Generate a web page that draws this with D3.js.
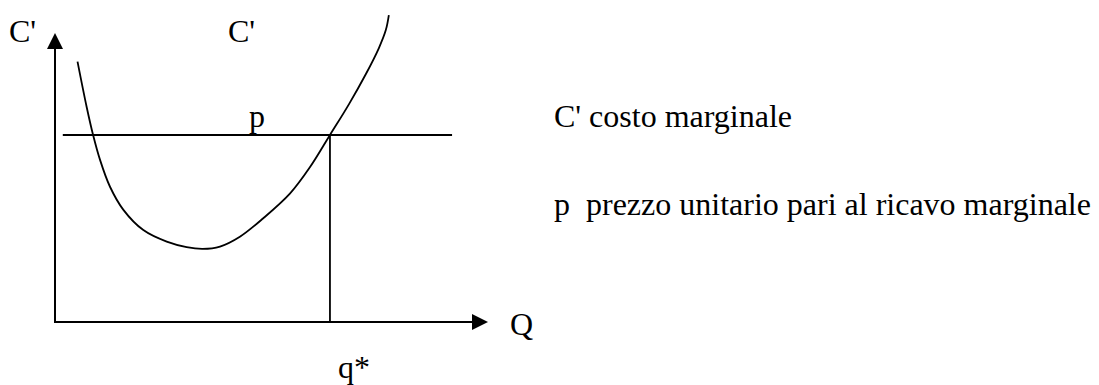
<!DOCTYPE html>
<html>
<head>
<meta charset="utf-8">
<script src="https://cdn.jsdelivr.net/npm/d3@7/dist/d3.min.js"></script>
<style>
  html, body { margin: 0; padding: 0; background: #fff; }
  svg { display: block; }
</style>
</head>
<body>
<svg id="chart" width="1099" height="385"></svg>
<script>
// Marginal cost curve C'(Q), sampled points (Q, C')
const curveQ = [0.52, 0.73, 0.88, 1.04, 1.27, 1.58, 2.04, 2.58, 3.04, 3.41, 3.81, 4.27, 4.81, 5.43, 5.89, 6.35, 6.79, 7.18, 7.48, 7.64, 7.71];
const curveC = [9.01, 7.45, 6.47, 5.61, 4.68, 3.88, 3.18, 2.78, 2.59, 2.53, 2.61, 2.95, 3.59, 4.45, 5.36, 6.47, 7.54, 8.58, 9.48, 10.10, 10.62];

// Price line p (= marginal revenue) and the optimal quantity q*
const priceLevel = [6.47];
const priceSpan = [0.18, 9.17];
const qStar = [6.35];

// Axis extent
const qDomain = [0, 10];
const cDomain = [0, 10];

// Text labels
const axisLabels = { y: "C'", x: "Q" };
const curveLabel = "C'";
const priceLabel = "p";
const qStarLabel = "q*";
const legendLines = ["C' costo marginale", "p  prezzo unitario pari al ricavo marginale"];

const svg = d3.select("#chart");
const fontSize = 32;
const fontFamily = "Liberation Serif";

const x = d3.scaleLinear().domain(qDomain).range([55, 488]);
const y = d3.scaleLinear().domain(cDomain).range([322, 33]);

const ink = "#000";

// Axes with arrowheads
const arrowLen = 16, arrowHalf = 8;
svg.append("line")
  .attr("x1", x(0)).attr("y1", y(0))
  .attr("x2", x(0)).attr("y2", y(cDomain[1]) + arrowLen - 1)
  .attr("stroke", ink).attr("stroke-width", 2);
svg.append("path")
  .attr("d", d3.line()([
    [x(0), y(cDomain[1])],
    [x(0) - arrowHalf, y(cDomain[1]) + arrowLen],
    [x(0) + arrowHalf, y(cDomain[1]) + arrowLen]
  ]) + "Z")
  .attr("fill", ink);

svg.append("line")
  .attr("x1", x(0) - 1).attr("y1", y(0))
  .attr("x2", x(qDomain[1]) - arrowLen + 1).attr("y2", y(0))
  .attr("stroke", ink).attr("stroke-width", 2);
svg.append("path")
  .attr("d", d3.line()([
    [x(qDomain[1]), y(0)],
    [x(qDomain[1]) - arrowLen, y(0) - arrowHalf],
    [x(qDomain[1]) - arrowLen, y(0) + arrowHalf]
  ]) + "Z")
  .attr("fill", ink);

// Price line
svg.append("line")
  .attr("x1", x(priceSpan[0])).attr("y1", y(priceLevel[0]))
  .attr("x2", x(priceSpan[1])).attr("y2", y(priceLevel[0]))
  .attr("stroke", ink).attr("stroke-width", 1.8);

// Vertical drop at q*
svg.append("line")
  .attr("x1", x(qStar[0])).attr("y1", y(priceLevel[0]))
  .attr("x2", x(qStar[0])).attr("y2", y(0))
  .attr("stroke", ink).attr("stroke-width", 1.8);

// Marginal cost curve
const pts = curveQ.map((q, i) => [q, curveC[i]]);
svg.append("path")
  .datum(pts)
  .attr("d", d3.line().x(d => x(d[0])).y(d => y(d[1])).curve(d3.curveCatmullRom.alpha(0.5)))
  .attr("fill", "none")
  .attr("stroke", ink)
  .attr("stroke-width", 1.8);

// Labels
const label = (txt, px, py) => svg.append("text")
  .attr("x", px).attr("y", py)
  .attr("font-family", fontFamily)
  .attr("font-size", fontSize)
  .attr("fill", ink)
  .text(txt);

label(axisLabels.y, 9, 42);
label(curveLabel, 228, 42);
label(priceLabel, x(4.48), y(priceLevel[0]) - 8);
label(axisLabels.x, x(qDomain[1]) + 22, y(0) + 13);
label(qStarLabel, x(qStar[0]) + 8, 378);

legendLines.forEach((t, i) => {
  svg.append("text")
    .attr("x", 554)
    .attr("y", 127 + i * 88)
    .attr("font-family", fontFamily)
    .attr("font-size", fontSize)
    .attr("fill", ink)
    .style("white-space", "pre")
    .text(t);
});
</script>
</body>
</html>
